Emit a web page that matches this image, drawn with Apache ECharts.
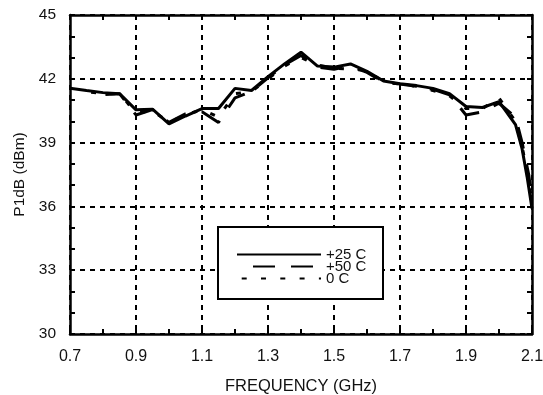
<!DOCTYPE html>
<html>
<head>
<meta charset="utf-8">
<script src="https://cdn.jsdelivr.net/npm/echarts@6/dist/echarts.min.js"></script>
<style>
html, body { margin: 0; padding: 0; background: #fff; }
#chart { width: 543px; height: 395px; }
</style>
</head>
<body>
<div id="chart"></div>
<script>
// +25 C
const freq25 = [0.7, 0.75, 0.8, 0.85, 0.9, 0.95, 1.0, 1.05, 1.1, 1.15, 1.2, 1.25, 1.3, 1.35, 1.4, 1.45, 1.5, 1.55, 1.6, 1.65, 1.7, 1.75, 1.8, 1.85, 1.9, 1.95, 2.0, 2.05, 2.07, 2.085, 2.1]
const p1db25 = [41.56, 41.45, 41.35, 41.3, 40.54, 40.57, 39.88, 40.25, 40.6, 40.6, 41.55, 41.45, 42.1, 42.7, 43.25, 42.6, 42.55, 42.7, 42.35, 41.9, 41.77, 41.68, 41.55, 41.3, 40.7, 40.65, 40.93, 39.85, 38.7, 37.4, 35.9]
// +50 C
const freq50 = [0.76, 0.8, 0.85, 0.9, 0.95, 1.0, 1.05, 1.1, 1.15, 1.2, 1.25, 1.3, 1.35, 1.4, 1.45, 1.5, 1.55, 1.6, 1.65, 1.7, 1.75, 1.8, 1.85, 1.9, 1.95, 2.0, 2.05, 2.07, 2.09, 2.1]
const p1db50 = [41.1, 41.25, 41.3, 40.3, 40.55, 39.95, 40.35, 40.45, 39.95, 41.1, 41.4, 42.05, 42.65, 43.1, 42.55, 42.45, 42.6, 42.3, 41.85, 41.75, 41.65, 41.5, 41.25, 40.3, 40.45, 40.85, 40.2, 39.0, 37.5, 36.3]
// 0 C
const freq0 = [0.75, 0.8, 0.85, 0.9, 0.95, 1.0, 1.05, 1.1, 1.15, 1.2, 1.25, 1.3, 1.35, 1.4, 1.45, 1.5, 1.55, 1.6, 1.65, 1.7, 1.75, 1.8, 1.85, 1.9, 1.95, 2.0, 2.05, 2.07, 2.09, 2.1]
const p1db0 = [41.4, 41.3, 41.3, 40.4, 40.5, 39.95, 40.3, 40.55, 40.2, 41.3, 41.4, 42.0, 42.6, 43.0, 42.65, 42.5, 42.45, 42.4, 41.85, 41.75, 41.65, 41.45, 41.2, 40.6, 40.6, 41.1, 40.0, 38.8, 37.3, 36.1]

const seriesNames = ['+25 C', '+50 C', '0 C']

const font = 'Liberation Sans, Arial, Helvetica, sans-serif'

function pairs(xs, ys) {
    return xs.map((x, i) => [x, ys[i]])
}

const chart = echarts.init(document.getElementById('chart'))

const frameLine = { lineStyle: { color: '#000', width: 2.5 } }
const tickStyle = { show: true, inside: true, length: 5, lineStyle: { color: '#000', width: 2 } }
const gridDash = { type: [5, 5], width: 2 }

const option = {
    animation: false,
    backgroundColor: '#fff',
    grid: { left: 70, right: 11, top: 15, bottom: 61, outerBoundsMode: 'none', containLabel: false },
    xAxis: [
        {
            type: 'value', min: 0.7, max: 2.1, interval: 0.1, position: 'bottom',
            axisLine: frameLine,
            axisTick: tickStyle,
            axisLabel: {
                color: '#111', fontSize: 16, fontFamily: font, margin: 15,
                formatter: v => (Math.round(v * 10) % 2 === 1 ? v.toFixed(1) : '')
            },
            splitLine: {
                show: true, showMinLine: true, showMaxLine: true,
                lineStyle: Object.assign({ color: ['#000', 'rgba(0,0,0,0)'] }, gridDash)
            },
            name: 'FREQUENCY (GHz)', nameLocation: 'middle', nameGap: 44,
            nameTextStyle: { color: '#111', fontSize: 16.5, fontFamily: font }
        },
        {
            type: 'value', min: 0.7, max: 2.1, interval: 0.1, position: 'top',
            axisLine: frameLine, axisTick: tickStyle,
            axisLabel: { show: false }, splitLine: { show: false }
        }
    ],
    yAxis: [
        {
            type: 'value', min: 30, max: 45, interval: 1, position: 'left',
            axisLine: frameLine,
            axisTick: tickStyle,
            axisLabel: {
                color: '#111', fontSize: 15.5, fontFamily: font, margin: 14,
                formatter: v => (v % 3 === 0 ? String(v) : '')
            },
            splitLine: {
                show: true, showMinLine: true, showMaxLine: true,
                lineStyle: Object.assign({ color: ['#000', 'rgba(0,0,0,0)', 'rgba(0,0,0,0)'] }, gridDash)
            },
            name: 'P1dB (dBm)', nameLocation: 'middle', nameRotate: 90, nameGap: 40,
            nameTextStyle: { color: '#111', fontSize: 15.5, fontFamily: font }
        },
        {
            type: 'value', min: 30, max: 45, interval: 1, position: 'right',
            axisLine: frameLine, axisTick: tickStyle,
            axisLabel: { show: false }, splitLine: { show: false }
        }
    ],
    legend: {
        data: seriesNames,
        orient: 'vertical',
        left: 218, top: 227,
        padding: [20, 14, 13, 18],
        itemWidth: 84, itemHeight: 12, itemGap: -3,
        backgroundColor: '#fff',
        borderColor: '#000', borderWidth: 2,
        itemStyle: { opacity: 0 },
        textStyle: { color: '#111', fontSize: 15, lineHeight: 14, fontFamily: font, width: 43, align: 'right' }
    },
    series: [
        {
            name: seriesNames[0], type: 'line', symbol: 'none', z: 4,
            itemStyle: { color: '#000' },
            lineStyle: { color: '#000', width: 3 },
            data: pairs(freq25, p1db25)
        },
        {
            name: seriesNames[1], type: 'line', symbol: 'none', z: 3,
            itemStyle: { color: '#000' },
            lineStyle: { color: '#000', width: 3, type: [22, 16], dashOffset: 22 },
            data: pairs(freq50, p1db50)
        },
        {
            name: seriesNames[2], type: 'line', symbol: 'none', z: 3,
            itemStyle: { color: '#000' },
            lineStyle: { color: '#000', width: 3, type: [5, 14.3], dashOffset: 14.6 },
            data: pairs(freq0, p1db0)
        }
    ]
}

chart.setOption(option)
</script>
</body>
</html>
